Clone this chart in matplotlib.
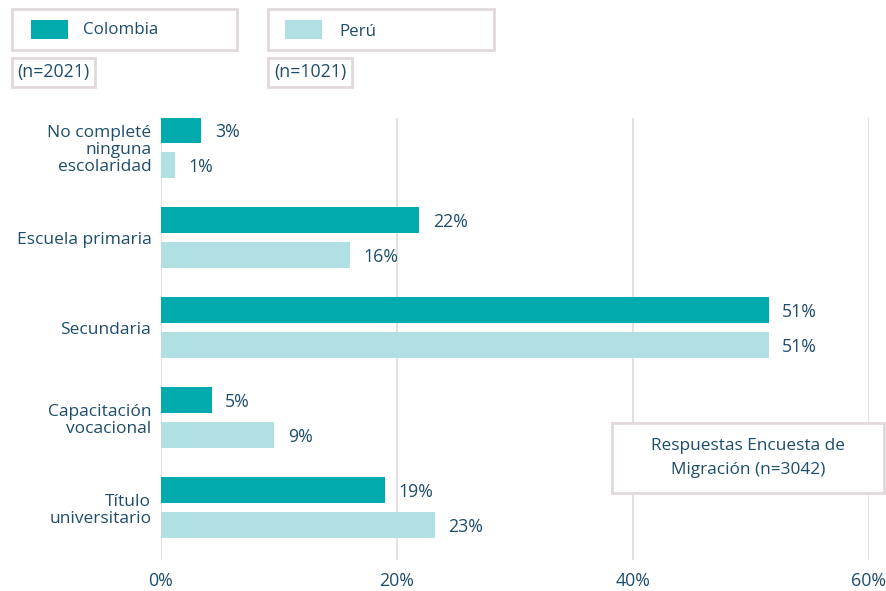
import numpy as np
import matplotlib
matplotlib.use('Agg')
import matplotlib.pyplot as plt
from matplotlib.patches import Rectangle

plt.rcParams['font.family'] = ['Open Sans', 'DejaVu Sans']

categories = ['No completé\nninguna\nescolaridad', 'Escuela primaria', 'Secundaria',
              'Capacitación\nvocacional', 'Título\nuniversitario']
colombia = [3.4, 21.9, 51.5, 4.3, 19.0]
peru = [1.2, 16.0, 51.5, 9.6, 23.2]
colombia_lbl = ['3%', '22%', '51%', '5%', '19%']
peru_lbl = ['1%', '16%', '51%', '9%', '23%']
xticks = [0, 20, 40, 60]

c_col = '#00aaad'
c_per = '#b0dfe4'
txt = '#1d4d6a'
edge = '#e2d8dc'

W, H = 887, 591
fig = plt.figure(figsize=(W / 100, H / 100), dpi=100)

def fx(px):
    return px / W

def fy(py):
    return 1 - py / H

ax = fig.add_axes([fx(161), fy(560), fx(869) - fx(161), fy(118) - fy(560)])

y = np.arange(len(categories))
off = 0.194
bh = 0.29
ax.barh(y - off, colombia, height=bh, color=c_col, zorder=3)
ax.barh(y + off, peru, height=bh, color=c_per, zorder=3)

for i in range(len(categories)):
    ax.text(colombia[i] + 1.15, y[i] - off + 0.02, colombia_lbl[i], va='center', ha='left',
            fontsize=12.8, color=txt)
    ax.text(peru[i] + 1.15, y[i] + off + 0.02, peru_lbl[i], va='center', ha='left',
            fontsize=12.8, color=txt)

ax.set_xlim(0, 60)
ax.set_ylim(4.583, -0.328)
ax.set_xticks(xticks)
ax.set_xticklabels([f'{t}%' for t in xticks], fontsize=12.8, color=txt)
ax.set_yticks(y)
ax.set_yticklabels(categories, fontsize=12.5, color=txt, multialignment='right',
                   linespacing=1.1)
ax.tick_params(length=0, pad=7)
ax.tick_params(axis='x', pad=9)
for s in ax.spines.values():
    s.set_visible(False)
ax.grid(axis='x', color=edge, linewidth=1.2, zorder=0)
ax.set_axisbelow(True)

# legend boxes
def box(x0, y0, x1, y1):
    fig.patches.append(Rectangle((fx(x0), fy(y1)), fx(x1) - fx(x0), fy(y0) - fy(y1),
                                 transform=fig.transFigure, facecolor='white',
                                 edgecolor=edge, linewidth=2))

box(12, 9, 237, 50)
box(268, 9, 494, 50)
box(12, 58, 95, 87)
box(268, 58, 352, 87)
for x0, c in [(31, c_col), (285, c_per)]:
    fig.patches.append(Rectangle((fx(x0), fy(39)), fx(37), fy(0) - fy(19),
                                 transform=fig.transFigure, facecolor=c, edgecolor='none'))
fig.text(fx(83), fy(30), 'Colombia', fontsize=12.2, color=txt, va='center')
fig.text(fx(339), fy(32), 'Perú', fontsize=12.2, color=txt, va='center')
fig.text(fx(53.5), fy(72.5), '(n=2021)', fontsize=12.8, color=txt, va='center', ha='center')
fig.text(fx(310), fy(72.5), '(n=1021)', fontsize=12.8, color=txt, va='center', ha='center')

box(612, 423, 884, 493)
fig.text(fx(748), fy(458), 'Respuestas Encuesta de\nMigración (n=3042)', fontsize=12.4,
         color=txt, va='center', ha='center', linespacing=1.6)

plt.savefig('out.png', dpi=100)
